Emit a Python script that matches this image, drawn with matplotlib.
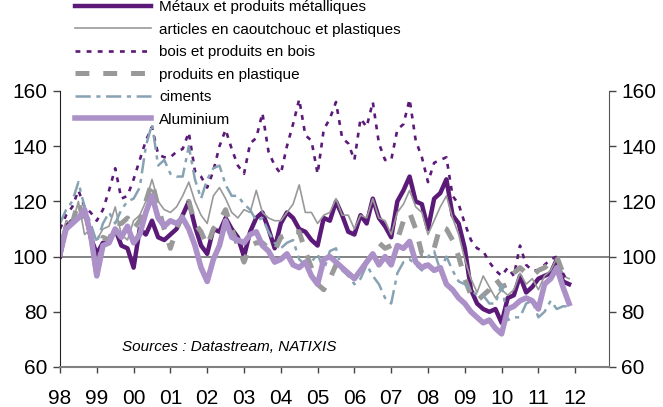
import numpy as np
import matplotlib
matplotlib.use("Agg")
import matplotlib.pyplot as plt

plt.rcParams['font.family'] = ['Liberation Sans', 'DejaVu Sans']
plt.rcParams['lines.scale_dashes'] = False

# Indices bimestriels, janv. 1998 -> nov. 2011 (6 valeurs par an)
metaux = [100, 111, 113, 114, 117, 107,
          101, 105, 105, 110, 104, 103,
          96, 110, 108, 113, 107, 106,
          108, 110, 115, 120, 111, 104,
          101, 110, 109, 114, 110, 107,
          100, 109, 114, 116, 110, 103,
          112, 116, 114, 110, 109, 106,
          104, 114, 113, 120, 115, 109,
          108, 115, 112, 121, 114, 111,
          107, 120, 124, 129, 120, 119,
          110, 121, 123, 128, 115, 112,
          103, 88, 83, 81, 80, 81,
          76, 85, 86, 93, 87, 89,
          92, 93, 94, 99, 91, 90]

caoutchouc = [105, 113, 112, 120, 108, 110,
              106, 110, 111, 118, 108, 106,
              113, 115, 120, 128, 120, 117,
              116, 118, 122, 127, 120, 115,
              112, 122, 125, 121, 116, 114,
              117, 116, 124, 116, 114, 113,
              113, 116, 119, 126, 116, 116,
              112, 115, 116, 121, 115, 115,
              110, 115, 114, 121, 114, 113,
              108, 116, 119, 124, 118, 116,
              108, 113, 118, 122, 114, 108,
              99, 92, 87, 93, 89, 85,
              88, 86, 88, 94, 90, 92,
              88, 93, 95, 99.5, 93, 92]

bois = [110, 115, 118, 124, 118, 116,
        113, 117, 124, 132, 121, 122,
        128, 135, 142, 147, 137, 136,
        136, 138, 139, 145, 131, 129,
        125, 131, 140, 146, 139, 133,
        130, 141, 143, 152, 138, 133,
        130, 140, 148, 157, 144, 142,
        130, 146, 150, 156, 143, 141,
        135, 150, 147, 156, 141, 135,
        135, 146, 148, 157, 142, 136,
        127, 134, 135, 136, 122, 119,
        112, 106, 103, 102, 98, 95,
        93, 96, 93, 104, 97, 95,
        95, 97, 99, 100, 94, 90]

plastique = [103, 110, 112, 120, 112, 108,
             93, 107, 106, 112, 112, 114,
             110, 113, 120, 127, 118, 110,
             103, 110, 115, 120, 112, 109,
             104, 110, 113, 117, 110, 104,
             98, 104, 105, 105, 103, 102,
             107, 108, 109, 109, 102, 96,
             90, 88, 92, 97, 93, 94,
             92, 95, 98, 101, 105, 103,
             104, 106, 113, 116, 110, 101,
             101, 103, 111, 110, 106, 100,
             92, 86, 84, 86, 88, 92,
             89, 90, 94, 96, 94, 93,
             95, 96, 98, 100, 94, 92]

ciments = [112, 117, 120, 127, 118, 112,
           105, 112, 116, 112, 117, 120,
           121, 125, 140, 148, 133, 135,
           130, 129, 129, 140, 128, 121,
           128, 132, 133, 126, 122, 122,
           119, 117, 113, 114, 109, 105,
           103, 105, 106, 99, 97, 98,
           101, 95, 102, 103, 95, 93,
           90, 92, 97, 93, 90, 85,
           83, 94, 98, 99, 97, 95,
           100, 102, 95, 100, 95, 91,
           90, 88, 86, 86, 83, 83,
           90, 77, 78, 78, 83, 84,
           78, 80, 84, 81, 82, 82]

aluminium = [101, 110, 112, 114, 117, 108,
             93, 104, 105, 110, 107, 111,
             105, 108, 116, 122, 114, 111,
             113, 112, 114, 110, 104, 96,
             91, 99, 104, 113, 107, 106,
             105, 108, 109, 104, 102, 98,
             99, 101, 97, 96, 98, 93,
             90, 99, 100, 98, 96, 94,
             92, 95, 98, 101, 97, 100,
             97, 104, 103, 105.5, 98, 96,
             97, 95, 96, 90, 88, 85,
             83, 80, 78, 76, 77, 74,
             72, 81, 82, 84, 85, 84,
             81, 90, 92, 96, 89, 83]

annees = list(range(1998, 2013))
labels_annees = ['98', '99', '00', '01', '02', '03', '04', '05', '06',
                 '07', '08', '09', '10', '11', '12']

dates = 1998 + np.arange(len(metaux)) / 6.0

fig = plt.figure(figsize=(6.63, 4.07), dpi=100)
ax = fig.add_axes([60 / 663, 1 - 367 / 407, 549 / 663, 276 / 407])

violet = '#5c1a78'
gris = '#999999'

ax.axhline(100, color='#6e6e6e', lw=1.2, zorder=1)

ax.plot(dates, metaux, color=violet, lw=3.2, label='Métaux et produits métalliques')
ax.plot(dates, caoutchouc, color=gris, lw=1.2, label='articles en caoutchouc et plastiques')
ax.plot(dates, bois, color=violet, lw=1.9, dashes=(3.5, 4.5), label='bois et produits en bois')
ax.plot(dates, plastique, color=gris, lw=3.6, dashes=(10, 10), label='produits en plastique')
ax.plot(dates, ciments, color='#87a3b3', lw=1.8, dashes=(11, 4, 3, 4), label='ciments')
ax.plot(dates, aluminium, color='#ac90c8', lw=4.0, label='Aluminium')

ax.set_xlim(1998, 1998 + 549 / 36.8)
ax.set_ylim(60, 160)
ax.set_xticks(annees)
ax.set_xticklabels(labels_annees)
ax.set_yticks(range(60, 161, 20))

ax.tick_params(axis='x', direction='out', length=4, width=1, color='#444444',
               labelsize=15, pad=12)
ax.tick_params(axis='y', direction='out', length=5, width=1, color='#444444',
               labelsize=15, pad=4, left=True, right=True,
               labelleft=True, labelright=True)

ax.spines['top'].set_visible(False)
ax.spines['bottom'].set_color('#808080')
ax.spines['bottom'].set_linewidth(1.5)
ax.spines['left'].set_color('#222222')
ax.spines['right'].set_color('#555555')

leg = ax.legend(loc='upper left', bbox_to_anchor=(75 / 663, 1.0),
                bbox_transform=fig.transFigure, frameon=False, fontsize=11,
                handlelength=5.0, handletextpad=0.5, labelspacing=0.56,
                borderpad=0, borderaxespad=0)

fig.text(122 / 663, 1 - 347 / 407, 'Sources : Datastream, NATIXIS',
         fontsize=11, style='italic', va='center', ha='left')

fig.savefig('out.png', dpi=100)
